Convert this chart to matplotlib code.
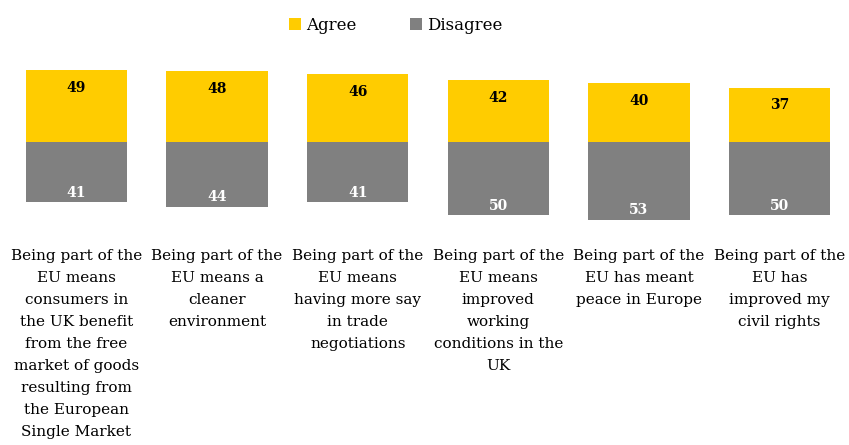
import numpy as np
import matplotlib
matplotlib.use("Agg")
import matplotlib.pyplot as plt

# data
categories = [
    "Being part of the\nEU means\nconsumers in\nthe UK benefit\nfrom the free\nmarket of goods\nresulting from\nthe European\nSingle Market",
    "Being part of the\nEU means a\ncleaner\nenvironment",
    "Being part of the\nEU means\nhaving more say\nin trade\nnegotiations",
    "Being part of the\nEU means\nimproved\nworking\nconditions in the\nUK",
    "Being part of the\nEU has meant\npeace in Europe",
    "Being part of the\nEU has\nimproved my\ncivil rights",
]
agree = [49, 48, 46, 42, 40, 37]
disagree = [41, 44, 41, 50, 53, 50]

yellow = "#FFCC00"
grey = "#808080"

plt.rcParams["font.family"] = ["DejaVu Serif"]

fig = plt.figure(figsize=(8.49, 4.45), dpi=100)
ax = fig.add_axes([0, (445 - 230) / 445, 1, 170 / 445])

x = np.arange(len(categories))
w = 0.72
ax.bar(x, agree, width=w, color=yellow, label="Agree")
ax.bar(x, [-d for d in disagree], width=w, color=grey, label="Disagree")

for xi, a, d in zip(x, agree, disagree):
    ax.text(xi, a - 12, str(a), ha="center", va="center", fontsize=10,
            fontweight="bold", color="black")
    ax.text(xi, -d + 6.5, str(d), ha="center", va="center", fontsize=10,
            fontweight="bold", color="white")

ax.set_xlim(-0.544, 5.494)
ax.set_ylim(-59.9, 55.8)
ax.set_xticks(x)
ax.set_xticklabels(categories, fontsize=11, linespacing=1.72)
ax.tick_params(axis="x", length=0, pad=14)
ax.set_yticks([])
for s in ax.spines.values():
    s.set_visible(False)

fig.legend(loc="upper center", bbox_to_anchor=(0.466, 1.0), ncol=2, frameon=False,
           fontsize=12, handlelength=0.75, handleheight=0.75, handletextpad=0.3,
           columnspacing=3.2, borderaxespad=0.6)

fig.savefig("out.png", dpi=100)
